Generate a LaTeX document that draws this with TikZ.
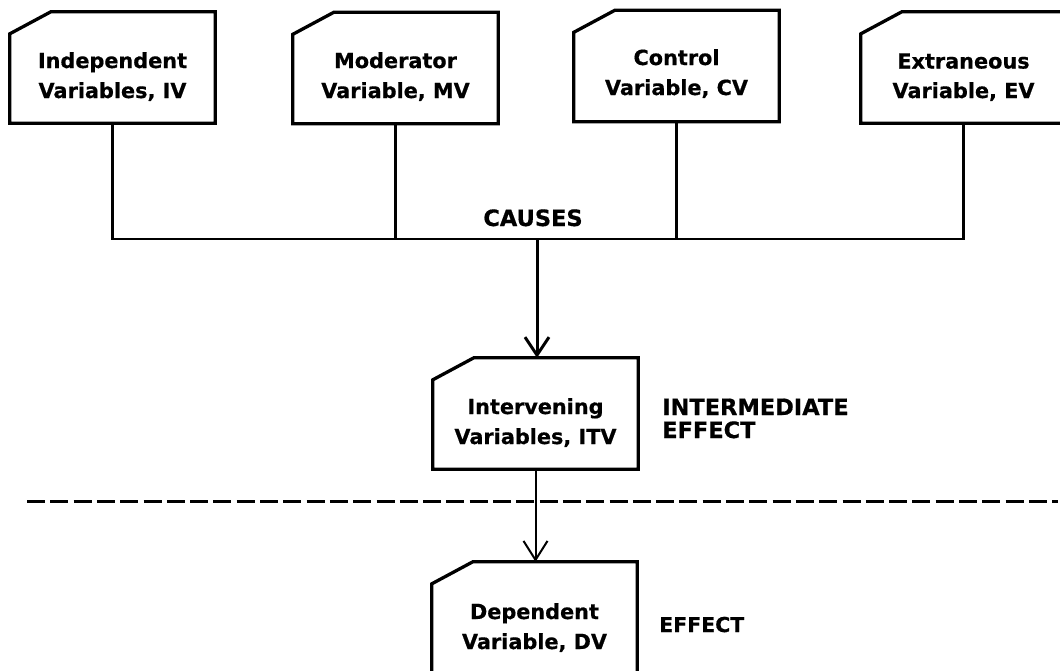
\documentclass[tikz,border=0pt]{standalone}
\usepackage{fontspec}
\setmainfont{DejaVu Sans}[BoldFeatures={FakeBold=0.6}]
\usetikzlibrary{arrows.meta}
\tikzset{
  varbox/.style={minimum width=205pt, minimum height=111pt, inner sep=0pt, draw=none},
  boxline/.style={line width=3.3pt, line join=miter},
  boxtext/.style={font=\fontsize{20.8}{25}\selectfont\bfseries, inner sep=0pt, anchor=base},
  labeltext/.style={font=\fontsize{22.5}{27}\selectfont\bfseries, inner sep=0pt},
  bus/.style={line width=2.6pt},
  bigarrow/.style={line width=3pt, -{Straight Barb[length=18pt,width=24pt,line width=3pt]}},
  smallarrow/.style={line width=2pt, -{Straight Barb[length=19pt,width=24pt,line width=2pt]}},
  divider/.style={line width=3pt, dash pattern=on 18pt off 5.3pt}
}
\begin{document}
\begin{tikzpicture}[x=1pt,y=-1pt]
\useasboundingbox (0,0) rectangle (1060,670);
\clip (0,0) rectangle (1060,670);

% boxes
\node[varbox] (iv)  at (112.5,67.5) {};
\node[varbox] (mv)  at (395.5,68) {};
\node[varbox] (cv)  at (676.5,66) {};
\node[varbox] (ev)  at (963.5,67.5) {};
\node[varbox] (itv) at (535.5,413.5) {};
\node[varbox] (dv)  at (534.5,617.5) {};

\foreach \n in {iv,mv,cv,ev,itv,dv}{
  \draw[boxline] (\n.south west) -- ([yshift=-22pt]\n.north west)
    -- ([xshift=41pt]\n.north west) -- (\n.north east) -- (\n.south east) -- cycle;
}

% box texts
\node[boxtext] (ivA) at (112.5,68) {Independent};
\node[boxtext] (ivB) at (112.5,98) {Variables, IV};
\node[boxtext] (mvA) at (395.5,68) {Moderator};
\node[boxtext] (mvB) at (395.5,98) {Variable, MV};
\node[boxtext] (cvA) at (676.5,65) {Control};
\node[boxtext] (cvB) at (676.5,95) {Variable, CV};
\node[boxtext] (evA) at (963.5,68.5) {Extraneous};
\node[boxtext] (evB) at (963.5,98) {Variable, EV};
\node[boxtext] (itvA) at (535.5,414) {Intervening};
\node[boxtext] (itvB) at (535.5,444) {Variables, ITV};
\node[boxtext] (dvA) at (534.5,619) {Dependent};
\node[boxtext] (dvB) at (534.5,649) {Variable, DV};

% labels
\node[labeltext, anchor=base] (causes) at (533,226) {CAUSES};
\node[labeltext, anchor=base west] (interA) at (662,415) {INTERMEDIATE};
\node[labeltext, anchor=base west] (interB) at (662,438) {EFFECT};
\node[labeltext, anchor=base west, font=\fontsize{20.5}{25}\selectfont\bfseries] (effect) at (659,632) {EFFECT};

% bus connectors
\coordinate (busmid) at (537,239);
\draw[bus] (iv.south) |- (busmid) -| (ev.south);
\draw[bus] (mv.south) -- (mv.south |- busmid);
\draw[bus] (cv.south) -- (cv.south |- busmid);

% arrows
\draw[bigarrow] (busmid) -- (busmid |- itv.north);
\draw[smallarrow] (itv.south) -- (itv.south |- dv.north);

% divider
\coordinate (dl) at (27,501);
\coordinate (dr) at (1058,501);
\draw[divider] (dl) -- (dr);
\end{tikzpicture}
\end{document}
